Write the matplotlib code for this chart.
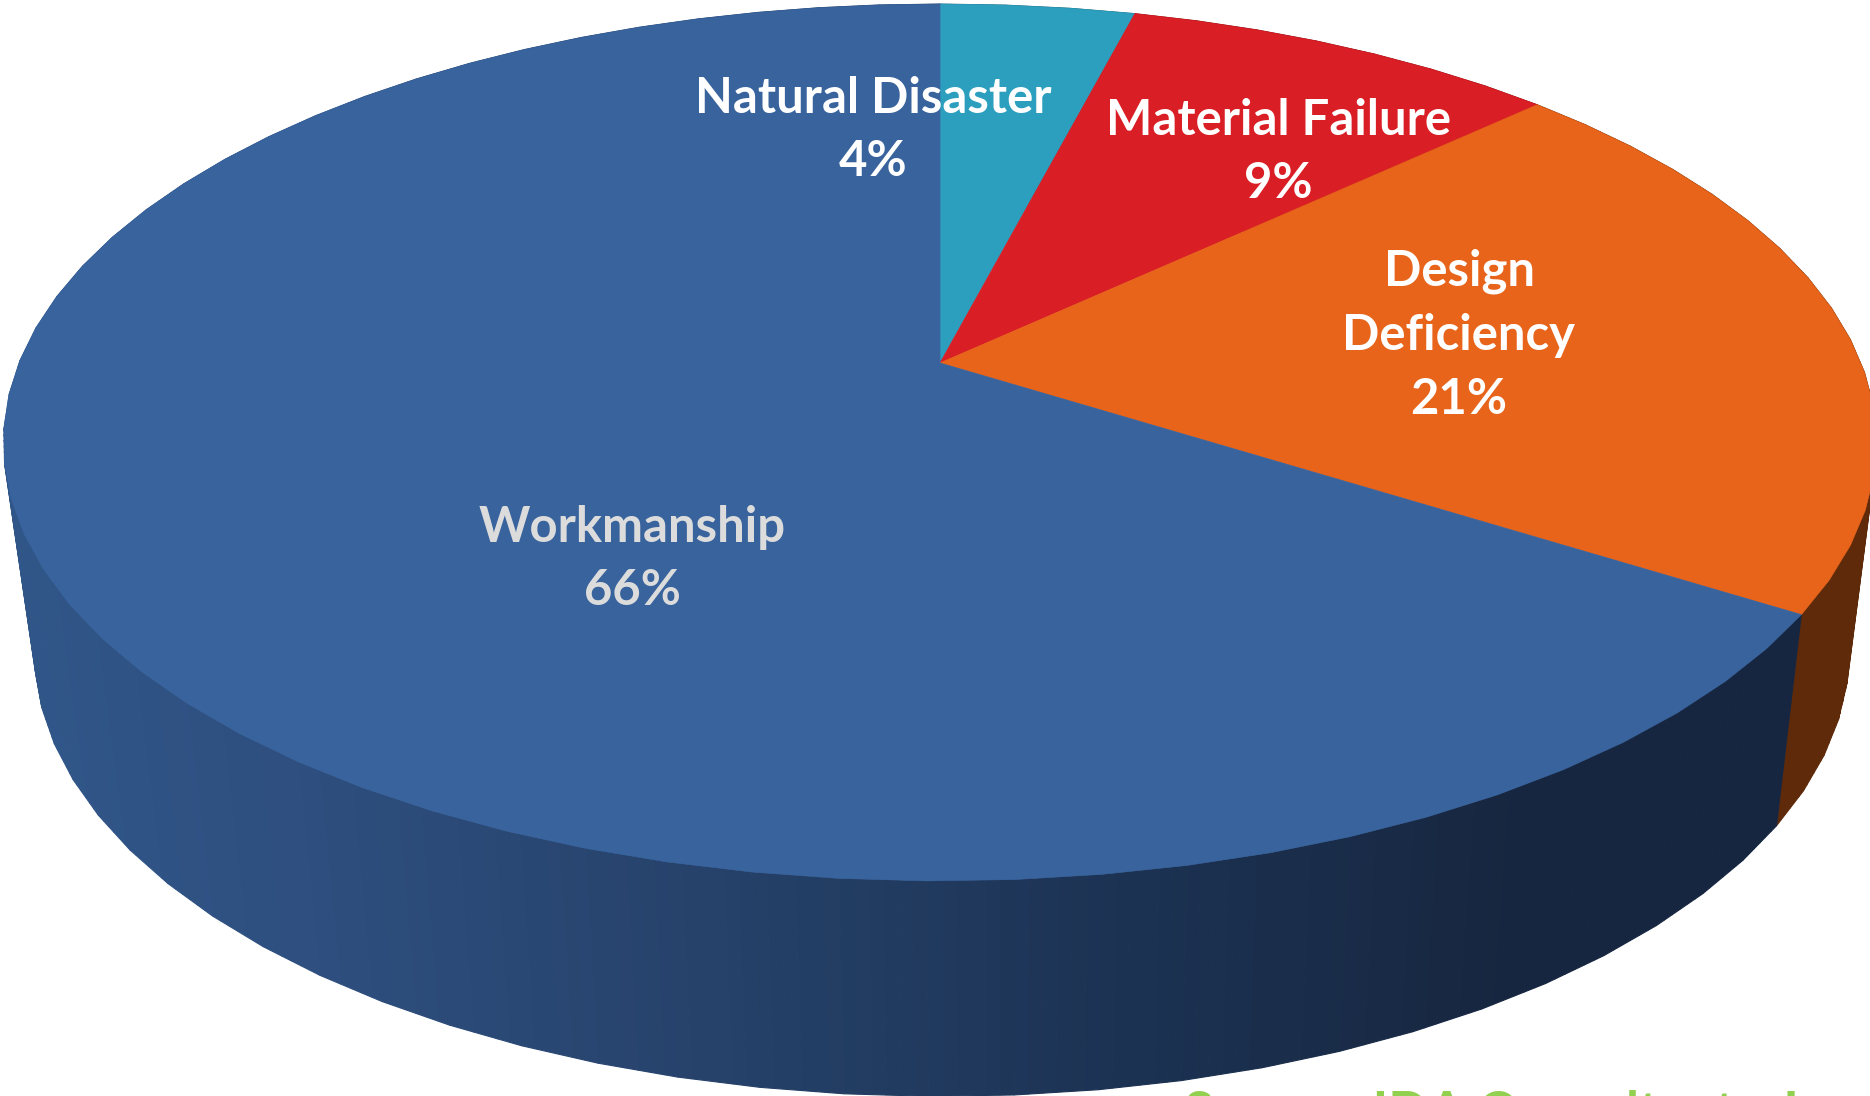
import numpy as np
import matplotlib
matplotlib.use('Agg')
import matplotlib.pyplot as plt
from matplotlib.patches import Polygon

# slices, clockwise from 12 o'clock
labels = ['Natural Disaster\n4%', 'Material Failure\n9%', 'Design\nDeficiency\n21%', 'Workmanship\n66%']
values = [4, 9, 21, 66]
colors = ['#2c9fbe', '#d91e25', '#e7641a', '#38639d']
side_colors = ['#1b5f72', '#7e1114', '#5e2a0a', None]
label_colors = ['white', 'white', 'white', '#dcdcdc']
label_x = [873, 1278, 1459, 632]
label_y = [130, 152, 335, 559]
source = 'Source: IDA Consultants, Inc.'

# blue side goes dark from left to right
shade_x = [0, 300, 700, 1100, 1500, 1870]
shade_col = [(0.19, 0.34, 0.54), (0.18, 0.31, 0.50), (0.15, 0.26, 0.42), (0.11, 0.20, 0.33), (0.09, 0.15, 0.25), (0.09, 0.15, 0.25)]

W, H = 1870, 1096
fig = plt.figure(figsize=(W / 100, H / 100), dpi=100)
ax = fig.add_axes([0, 0, 1, 1])
ax.set_xlim(0, W)
ax.set_ylim(H, 0)
ax.axis('off')

# perspective disc: apex of the slices sits above the ellipse centre
cx, cy = 940, 363
A, B, k = 921, 424, 0.1813
# top and bottom rim ellipses
top_c = (936, 442.5)
top_r = (934, 439)
bot_c = (938, 651)
bot_r = (905, 446)


def rim(frac):
    t = 2 * np.pi * np.asarray(frac)
    u, v = np.sin(t), np.cos(t)
    w = 1 + k * v
    return cx + A * u / w, cy - B * v / w


def facets(i):
    # the rim is a polygon, not a smooth curve
    n = max(int(round(values[i] * 0.8)), 2)
    return rim(np.linspace(edges[i], edges[i + 1], n + 1))


def drop(x, y):
    return (bot_c[0] + bot_r[0] * (x - top_c[0]) / top_r[0],
            bot_c[1] + bot_r[1] * (y - top_c[1]) / top_r[1])


edges = np.cumsum([0] + values) / sum(values)

# side wall, thin quads along the facets
for i in range(len(values)):
    xc, yc = facets(i)
    pos = np.linspace(0, len(xc) - 1, (len(xc) - 1) * 6 + 1)
    x = np.interp(pos, np.arange(len(xc)), xc)
    y = np.interp(pos, np.arange(len(yc)), yc)
    x2, y2 = drop(x, y)
    for j in range(len(x) - 1):
        if side_colors[i] is None:
            xm = (x2[j] + x2[j + 1]) / 2
            c = [np.interp(xm, shade_x, [s[m] for s in shade_col]) for m in range(3)]
        else:
            c = side_colors[i]
        quad = [(x[j], y[j]), (x[j + 1], y[j + 1]), (x2[j + 1], y2[j + 1]), (x2[j], y2[j])]
        ax.add_patch(Polygon(quad, closed=True, fc=c, ec=c, lw=0.8))

# top face
for i in range(len(values)):
    x, y = facets(i)
    pts = [(cx, cy)] + list(zip(x, y))
    ax.add_patch(Polygon(pts, closed=True, fc=colors[i], ec=colors[i], lw=0.5))

for i in range(len(labels)):
    ax.text(label_x[i], label_y[i], labels[i], color=label_colors[i], ha='center', va='center',
            family='Lato', weight='bold', fontsize=35.3, linespacing=1.51)

# only the top of this line fits on the picture
ax.text(1184, 1089, source, color='#92d050', ha='left', va='top',
        family='Lato', weight='bold', fontsize=38)

fig.savefig('out.png', dpi=100, facecolor='white')
